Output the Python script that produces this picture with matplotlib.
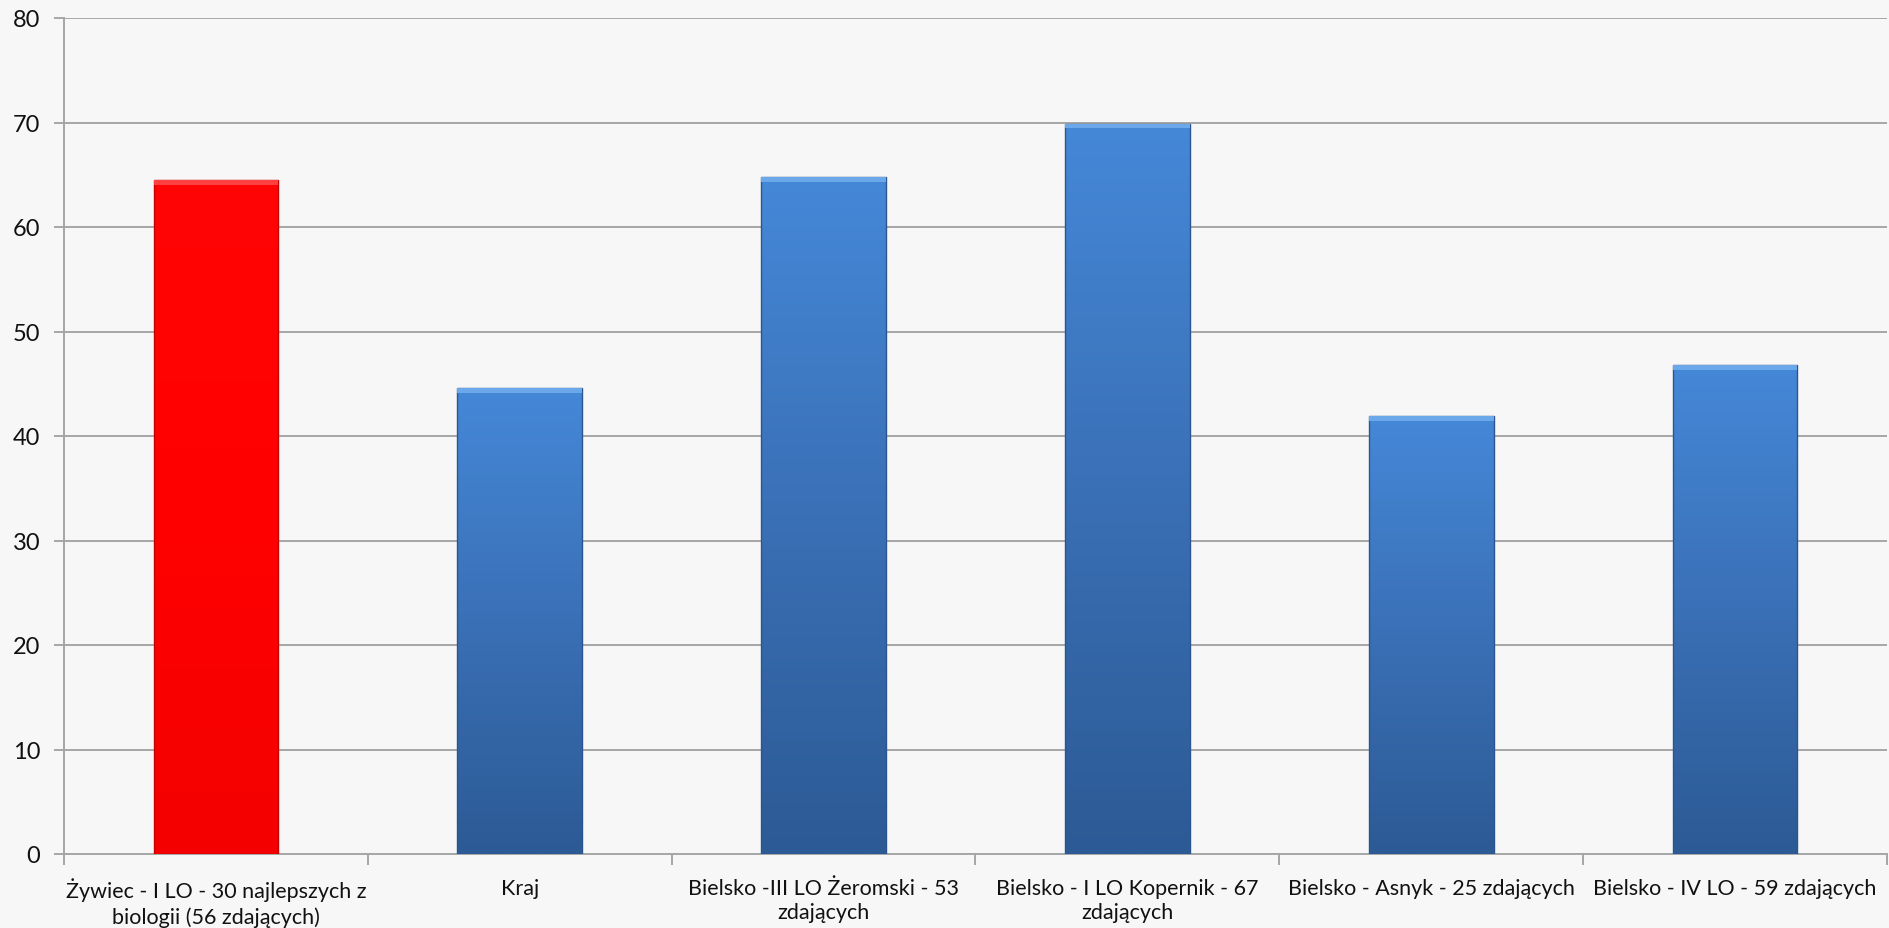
import numpy as np
import matplotlib
matplotlib.use("Agg")
import matplotlib.pyplot as plt
from matplotlib.colors import LinearSegmentedColormap

categories = [
    "Żywiec - I LO - 30 najlepszych z\nbiologii (56 zdających)",
    "Kraj",
    "Bielsko -III LO Żeromski - 53\nzdających",
    "Bielsko - I LO Kopernik - 67\nzdających",
    "Bielsko - Asnyk - 25 zdających",
    "Bielsko - IV LO - 59 zdających",
]
values = [64.5, 44.6, 64.8, 69.9, 41.9, 46.8]
highlight = [True, False, False, False, False, False]
yticks = [0, 10, 20, 30, 40, 50, 60, 70, 80]

plt.rcParams['font.family'] = ['Lato', 'DejaVu Sans']

bg = "#f7f7f7"
fig = plt.figure(figsize=(18.89, 9.29), dpi=100, facecolor=bg)
ax = fig.add_axes([64/1889, (929-855)/929, (1887-64)/1889, (855-19)/929])
ax.set_facecolor(bg)

x = np.arange(len(categories))
width = 0.41
bars = ax.bar(x, values, width=width, color=["#ff0000" if h else "#3f7fcf" for h in highlight],
              edgecolor="none", zorder=3)

blue_cmap = LinearSegmentedColormap.from_list("b", ["#2c5a95", "#3a70b6", "#4588d8"])
red_cmap = LinearSegmentedColormap.from_list("r", ["#f40000", "#ff0000", "#ff0505"])
grad = np.linspace(0, 1, 256).reshape(-1, 1)
for b, h in zip(bars, highlight):
    x0, y0 = b.get_x(), b.get_y()
    w, hgt = b.get_width(), b.get_height()
    im = ax.imshow(grad, cmap=red_cmap if h else blue_cmap, aspect="auto",
                   extent=[x0, x0 + w, y0, y0 + hgt], origin="lower", zorder=3.5)
    im.set_clip_path(b)
    ax.bar(x0 + w/2, hgt, width=w, color="none",
           edgecolor=("#c80000" if h else "#2a5590"), linewidth=1.0, zorder=4)
    ax.bar(x0 + w/2, 0.45, bottom=y0 + hgt - 0.45, width=w,
           color=("#ff4040" if h else "#6aa8ea"), edgecolor="none", zorder=4.5)

ax.set_xlim(-0.5, len(categories) - 0.5)
ax.set_ylim(0, 80)
ax.set_yticks(yticks)
ax.set_yticklabels([str(t) for t in yticks], fontsize=17, color="#111111")
ax.yaxis.grid(True, color="#a6a6a6", linewidth=1.4, zorder=0)
ax.set_axisbelow(True)

ax.set_xticks(x)
ax.set_xticklabels(categories, fontsize=15.5, color="#111111", linespacing=1.3)
ax.set_xticks(np.arange(-0.5, len(categories)), minor=True)
ax.tick_params(axis="x", which="major", length=0, pad=17)
ax.tick_params(axis="x", which="minor", length=8, color="#a6a6a6", width=1.4)
ax.tick_params(axis="y", length=7, color="#a6a6a6", width=1.4, pad=10)

for s in ["top", "right"]:
    ax.spines[s].set_visible(False)
for s in ["left", "bottom"]:
    ax.spines[s].set_color("#a6a6a6")
    ax.spines[s].set_linewidth(1.4)

fig.savefig("out.png", dpi=100, facecolor=bg)
